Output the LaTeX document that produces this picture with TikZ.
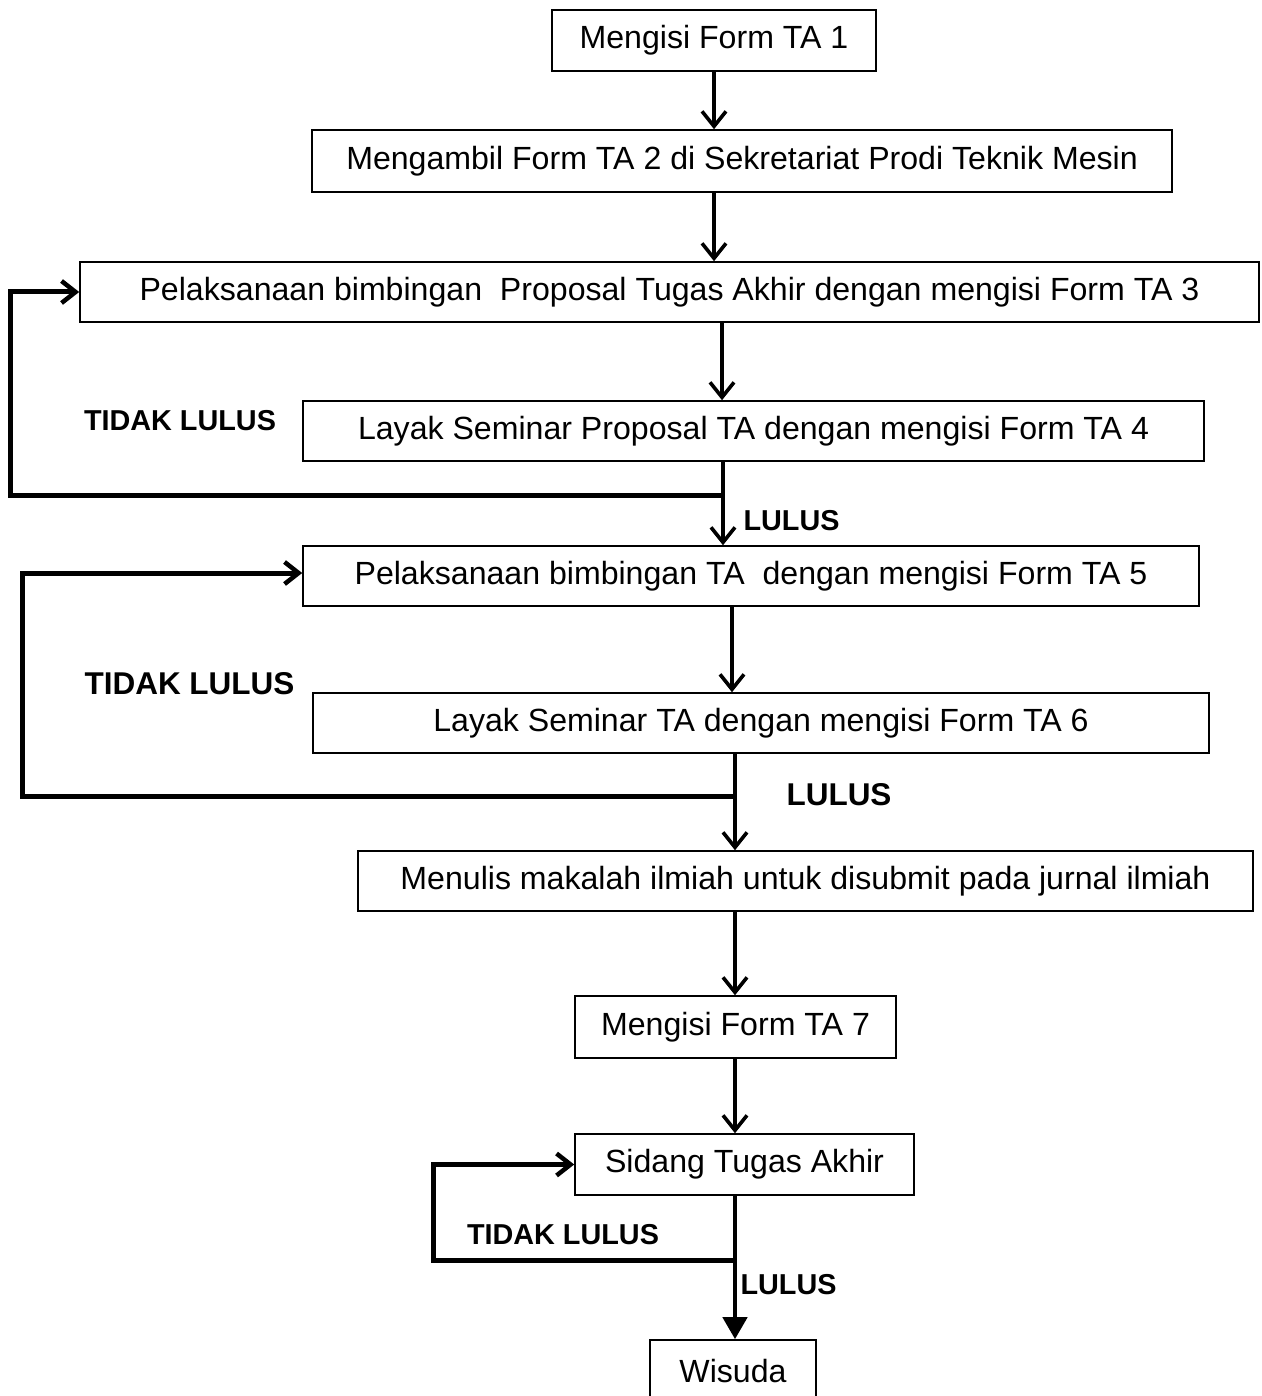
\documentclass[tikz,border=0pt]{standalone}
\usepackage{fontspec}
\setmainfont{Liberation Sans}
\usetikzlibrary{arrows.meta}
\newcommand{\bx}[6]{\node[fbox, minimum width={(#4-#2)*1pt}, minimum height={(#5-#3)*1pt}] (#1) at ({(#2+#4)/2},{(#3+#5)/2}) {#6};}
\begin{document}
\begin{tikzpicture}[x=1pt,y=-1pt,
  fbox/.style={draw, line width=1.6pt, inner sep=0pt, font=\fontsize{32.1}{38}\selectfont},
  arr/.style={line width=3.6pt, -{Straight Barb[length=15pt,width=24pt,line width=3.6pt]}},
  looparr/.style={line width=5pt, line join=miter, -{Straight Barb[length=14pt,width=22pt,line width=4.5pt]}},
  fillarr/.style={line width=4.5pt, -{Triangle[length=22pt,width=24pt]}},
  lbl/.style={inner sep=0pt, font=\bfseries\fontsize{28.8}{34}\selectfont},
  lblb/.style={inner sep=0pt, font=\bfseries\fontsize{31.5}{37}\selectfont}]
\useasboundingbox (0,0) rectangle (1261,1396);
\fill[white] (0,0) rectangle (1261,1396);
\bx{n1}{552}{10}{876}{71}{Mengisi Form TA 1}
\bx{n2}{312}{130}{1172}{192}{Mengambil Form TA 2 di Sekretariat Prodi Teknik Mesin}
\bx{n3}{80}{262}{1259}{322}{Pelaksanaan bimbingan\ \ Proposal Tugas Akhir dengan mengisi Form TA 3}
\bx{n4}{303}{401}{1204}{461}{Layak Seminar Proposal TA dengan mengisi Form TA 4}
\bx{n5}{303}{546}{1199}{606}{Pelaksanaan bimbingan TA\ \ dengan mengisi Form TA 5}
\bx{n6}{313}{693}{1209}{753}{Layak Seminar TA dengan mengisi Form TA 6}
\bx{n7}{358}{851}{1253}{911}{Menulis makalah ilmiah untuk disubmit pada jurnal ilmiah}
\bx{n8}{575}{996}{896}{1058}{Mengisi Form TA 7}
\bx{n9}{575}{1134}{914}{1195}{Sidang Tugas Akhir}
\bx{n10}{650}{1340}{816}{1402}{Wisuda}
% straight flow
\draw[arr] (714,0 |- n1.south) -- (714,0 |- n2.north);
\draw[arr] (714,0 |- n2.south) -- (714,0 |- n3.north);
\draw[arr] (722,0 |- n3.south) -- (722,0 |- n4.north);
\draw[arr] (723,0 |- n4.south) -- (723,0 |- n5.north);
\draw[arr] (732,0 |- n5.south) -- (732,0 |- n6.north);
\draw[arr] (735,0 |- n6.south) -- (735,0 |- n7.north);
\draw[arr] (735,0 |- n7.south) -- (735,0 |- n8.north);
\draw[arr] (735,0 |- n8.south) -- (735,0 |- n9.north);
\draw[fillarr] (735,0 |- n9.south) -- (735,0 |- n10.north);
% loops
\coordinate (j1) at (724,495);
\coordinate (j2) at (736,796);
\coordinate (j3) at (736,1260);
\draw[looparr] (j1) -- (10,495) -- (10,0 |- n3.west) -- (n3.west);
\draw[looparr] (j2) -- (22,796) -- (22,573) -- (n5.west |- 0,573);
\draw[looparr] (j3) -- (433,1260) -- (433,0 |- n9.west) -- (n9.west);
% labels
\node[lbl] (t1) at (180,421) {TIDAK LULUS};
\node[lbl] (l1) at (791.5,521) {LULUS};
\node[lblb] (t2) at (189.5,684) {TIDAK LULUS};
\node[lblb] (l2) at (839,795) {LULUS};
\node[lbl] (t3) at (563,1235) {TIDAK LULUS};
\node[lbl] (l3) at (788.5,1285) {LULUS};
\end{tikzpicture}
\end{document}
